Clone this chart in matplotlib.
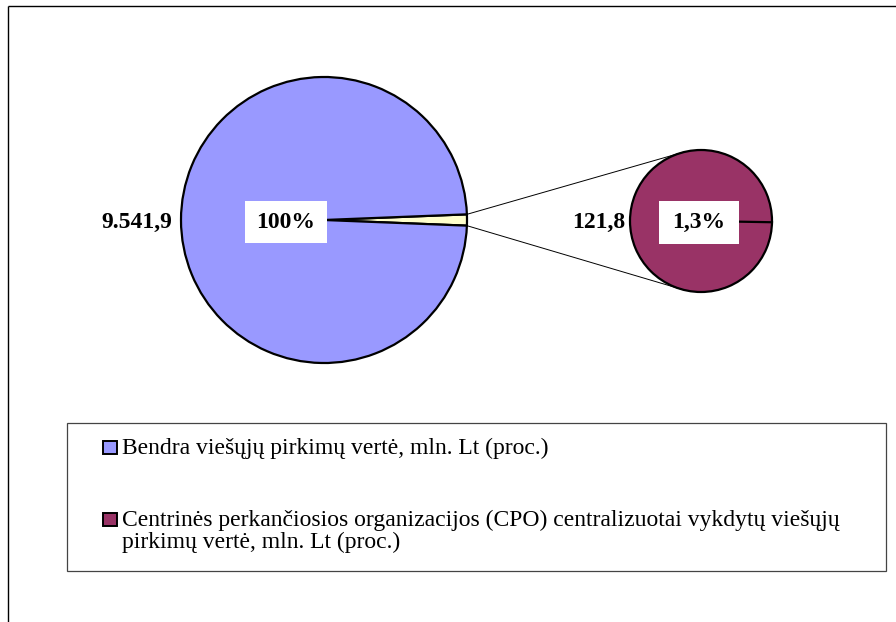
import numpy as np
import matplotlib
matplotlib.use("Agg")
import matplotlib.pyplot as plt
from matplotlib.patches import Rectangle

# ---- data ----
categories = ["Bendra viešųjų pirkimų vertė, mln. Lt (proc.)",
              "Centrinės perkančiosios organizacijos (CPO) centralizuotai vykdytų viešųjų\npirkimų vertė, mln. Lt (proc.)"]
values = [9541.9, 121.8]
value_labels = ["9.541,9", "121,8"]
pct_labels = ["100%", "1,3%"]
colors = ["#9999FF", "#993366"]
other_color = "#FFFFCC"

W, H = 896, 622
fig = plt.figure(figsize=(W / 100, H / 100), dpi=100)
ax = fig.add_axes([0, 0, 1, 1])

serif = "Liberation Serif"

# ---- primary pie ----
c1 = (324, 220)
r1 = 143
frac = values[1] / (values[0] + values[1])
ang = 360 * frac
ax.pie([values[1], values[0]], colors=[other_color, colors[0]],
       startangle=-ang / 2, counterclock=True, center=c1, radius=r1,
       wedgeprops=dict(edgecolor="black", linewidth=1.6), frame=True)

# ---- secondary pie ----
c2 = (701, 221)
r2 = 71
ax.pie([values[1]], colors=[colors[1]], startangle=0, center=c2, radius=r2,
       wedgeprops=dict(edgecolor="black", linewidth=1.6), frame=True)

ax.set_xlim(0, W)
ax.set_ylim(H, 0)
ax.set_aspect("equal")
ax.axis("off")

# outer border (top and left lines)
ax.plot([8, W + 5], [5.5, 5.5], color="black", lw=1.0, solid_capstyle="butt")
ax.plot([8, 8], [5.5, H + 5], color="black", lw=1.0, solid_capstyle="butt")

ax.plot([c2[0], c2[0] + r2 * np.cos(np.radians(-1))],
        [c2[1], c2[1] + r2 * np.sin(np.radians(1))], color="black", lw=1.6, zorder=3)

# ---- connector lines ----
a = np.radians(ang / 2)
p_top = (c1[0] + r1 * np.cos(a), c1[1] - r1 * np.sin(a))
p_bot = (c1[0] + r1 * np.cos(a), c1[1] + r1 * np.sin(a))
b = np.radians(105)
q_top = (c2[0] + r2 * np.cos(b), c2[1] - r2 * np.sin(b))
q_bot = (c2[0] + r2 * np.cos(b), c2[1] + r2 * np.sin(b))
ax.plot([p_top[0], q_top[0]], [p_top[1], q_top[1]], color="black", lw=0.7, zorder=1)
ax.plot([p_bot[0], q_bot[0]], [p_bot[1], q_bot[1]], color="black", lw=0.7, zorder=1)

# ---- labels ----
lab_fs = 17
ax.text(172, 222, value_labels[0], ha="right", va="center", fontsize=lab_fs,
        fontweight="bold", family=serif, zorder=5)
ax.text(625, 222, value_labels[1], ha="right", va="center", fontsize=lab_fs,
        fontweight="bold", family=serif, zorder=5)

ax.add_patch(Rectangle((245, 201), 82, 42, facecolor="white", edgecolor="none", zorder=4))
ax.text(286, 222, pct_labels[0], ha="center", va="center", fontsize=lab_fs,
        fontweight="bold", family=serif, zorder=5)
ax.add_patch(Rectangle((659, 201), 80, 43, facecolor="white", edgecolor="none", zorder=4))
ax.text(699, 222, pct_labels[1], ha="center", va="center", fontsize=lab_fs,
        fontweight="bold", family=serif, zorder=5)

# ---- legend ----
ax.add_patch(Rectangle((67, 423), 819, 148, facecolor="white", edgecolor="#444444",
                       lw=0.9, zorder=2))
leg_fs = 17
baselines = [454, 526]
line_gap = 22
for i, (lab, col) in enumerate(zip(categories, colors)):
    ax.add_patch(Rectangle((103, baselines[i] - 13), 14, 13, facecolor=col,
                           edgecolor="black", lw=1.4, zorder=3))
    for j, line in enumerate(lab.split("\n")):
        ax.text(122, baselines[i] + j * line_gap, line, ha="left", va="baseline",
                fontsize=leg_fs, family=serif, zorder=3)

fig.savefig("out.png", dpi=100)
